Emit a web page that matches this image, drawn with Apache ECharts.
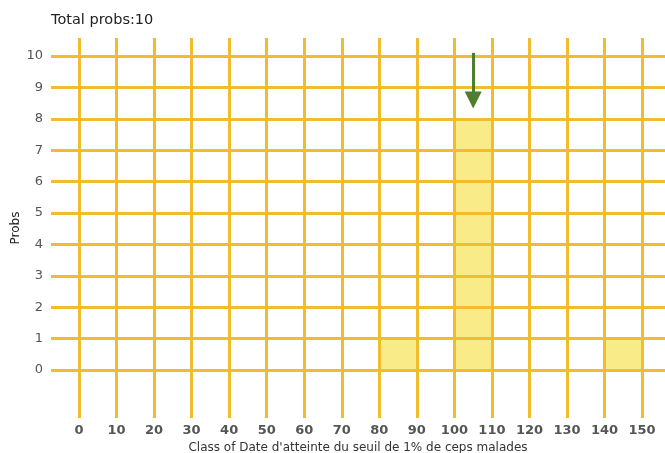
<!DOCTYPE html>
<html>
<head>
<meta charset="utf-8">
<script src="https://cdn.jsdelivr.net/npm/echarts@6/dist/echarts.min.js"></script>
<style>
  html, body { margin: 0; padding: 0; background: #fff; }
  #chart { width: 665px; height: 453px; }
</style>
</head>
<body>
<div id="chart"></div>
<script>
// données
const binStarts = [0, 10, 20, 30, 40, 50, 60, 70, 80, 90, 100, 110, 120, 130, 140];
const binCounts = [0, 0, 0, 0, 0, 0, 0, 0, 1, 0, 8, 0, 0, 0, 1];
const binWidth = 10;
const xTicks = [0, 10, 20, 30, 40, 50, 60, 70, 80, 90, 100, 110, 120, 130, 140, 150];
const yTicks = [0, 1, 2, 3, 4, 5, 6, 7, 8, 9, 10];
const arrowX = 105;
const arrowFrom = 10.1;
const arrowTo = 8.6;
const totalProbs = 10;

const gridColor = '#f1bd2f';
const barColor = '#f9ec88';
const arrowColor = '#4e7d2c';

const chart = echarts.init(document.getElementById('chart'));

const option = {
    animation: false,
    title: {
        text: 'Total probs:' + totalProbs,
        left: 46,
        top: 8,
        textStyle: { fontFamily: 'DejaVu Sans', fontSize: 14.5, fontWeight: 'normal', color: '#222' }
    },
    grid: { left: 51, right: 0, top: 38, bottom: 35, outerBoundsMode: 'none', containLabel: false },
    xAxis: {
        type: 'value',
        min: -7.46,
        max: 156.1,
        name: "Class of Date d'atteinte du seuil de 1% de ceps malades",
        nameLocation: 'middle',
        nameGap: 24,
        nameMoveOverlap: false,
        nameTextStyle: { fontFamily: 'DejaVu Sans', fontSize: 12, color: '#333' },
        axisLine: { show: false },
        axisTick: { show: false },
        splitLine: { show: false },
        axisLabel: {
            customValues: xTicks,
            margin: 6,
            fontFamily: 'DejaVu Sans',
            fontSize: 13,
            fontWeight: 'bold',
            color: '#555'
        }
    },
    yAxis: {
        type: 'value',
        min: -1.529,
        max: 10.573,
        name: 'Probs',
        nameLocation: 'middle',
        nameGap: 29,
        nameRotate: 90,
        nameMoveOverlap: false,
        nameTextStyle: { fontFamily: 'DejaVu Sans', fontSize: 12, color: '#222' },
        axisLine: { show: false },
        axisTick: { show: false },
        splitLine: { show: false },
        axisLabel: {
            customValues: yTicks,
            margin: 8,
            fontFamily: 'DejaVu Sans',
            fontSize: 13,
            color: '#555'
        }
    },
    series: [
        {
            // barres de l'histogramme
            type: 'custom',
            z: 1,
            silent: true,
            data: binStarts.map((s, i) => [s, binCounts[i]]),
            renderItem: function (params, api) {
                const start = api.value(0);
                const count = api.value(1);
                if (!count) return null;
                const p1 = api.coord([start, count]);
                const p2 = api.coord([start + binWidth, 0]);
                return {
                    type: 'rect',
                    shape: { x: p1[0], y: p1[1], width: p2[0] - p1[0], height: p2[1] - p1[1] },
                    style: { fill: barColor }
                };
            }
        },
        {
            // quadrillage
            type: 'line',
            data: [],
            z: 3,
            markLine: {
                silent: true,
                symbol: ['none', 'none'],
                label: { show: false },
                lineStyle: { color: gridColor, width: 3, type: 'solid' },
                data: xTicks.map(v => ({ xAxis: v })).concat(yTicks.map(v => ({ yAxis: v })))
            }
        },
        {
            // flèche
            type: 'line',
            data: [],
            z: 4,
            markLine: {
                silent: true,
                symbol: ['none', 'triangle'],
                symbolSize: [17, 17],
                label: { show: false },
                lineStyle: { color: arrowColor, width: 3, type: 'solid' },
                itemStyle: { color: arrowColor },
                data: [[{ coord: [arrowX, arrowFrom] }, { coord: [arrowX, arrowTo] }]]
            }
        }
    ]
};

chart.setOption(option);
</script>
</body>
</html>
